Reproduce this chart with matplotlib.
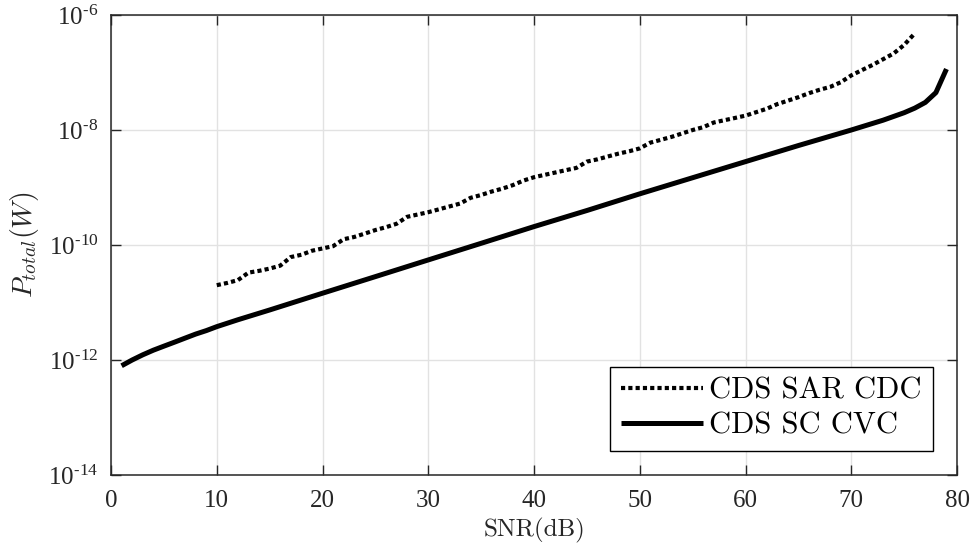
import matplotlib
import matplotlib.pyplot as plt
import numpy as np

matplotlib.use("Agg")

# SNR sweep (dB) and total power (W) for the two converter architectures
snr_sar = [10, 11, 12, 13, 14, 15, 16, 17, 18, 19, 20, 21, 22, 23, 24, 25,
           26, 27, 28, 29, 30, 31, 32, 33, 34, 35, 36, 37, 38, 39, 40, 41,
           42, 43, 44, 45, 46, 47, 48, 49, 50, 51, 52, 53, 54, 55, 56, 57,
           58, 59, 60, 61, 62, 63, 64, 65, 66, 67, 68, 69, 70, 71, 72, 73,
           74, 75, 76]
p_sar = [2.0e-11, 2.19e-11, 2.45e-11, 3.31e-11, 3.55e-11, 3.89e-11,
         4.37e-11, 6.17e-11, 6.76e-11, 7.94e-11, 8.71e-11, 9.55e-11,
         1.26e-10, 1.38e-10, 1.58e-10, 1.82e-10, 2.04e-10, 2.34e-10,
         3.09e-10, 3.39e-10, 3.72e-10, 4.17e-10, 4.68e-10, 5.25e-10,
         6.61e-10, 7.41e-10, 8.51e-10, 9.55e-10, 1.10e-09, 1.32e-09,
         1.51e-09, 1.66e-09, 1.82e-09, 2.0e-09, 2.19e-09, 2.82e-09,
         3.09e-09, 3.47e-09, 3.89e-09, 4.27e-09, 4.79e-09, 6.03e-09,
         6.76e-09, 7.59e-09, 8.71e-09, 1.0e-08, 1.12e-08, 1.35e-08,
         1.48e-08, 1.62e-08, 1.78e-08, 2.04e-08, 2.34e-08, 2.82e-08,
         3.24e-08, 3.72e-08, 4.37e-08, 5.01e-08, 5.62e-08, 6.76e-08,
         8.91e-08, 1.10e-07, 1.35e-07, 1.70e-07, 2.14e-07, 3.02e-07,
         4.79e-07]

snr_sc = [1, 2, 3, 4, 5, 6, 7, 8, 9, 10, 12, 15, 20, 25, 30, 35, 40, 45,
          50, 55, 60, 65, 70, 73, 75, 76, 77, 78, 79]
p_sc = [7.94e-13, 1.0e-12, 1.23e-12, 1.48e-12, 1.74e-12, 2.04e-12,
        2.40e-12, 2.82e-12, 3.24e-12, 3.80e-12, 5.01e-12, 7.41e-12,
        1.45e-11, 2.82e-11, 5.50e-11, 1.07e-10, 2.09e-10, 3.98e-10,
        7.76e-10, 1.48e-09, 2.82e-09, 5.37e-09, 1.0e-08, 1.48e-08,
        2.0e-08, 2.40e-08, 3.02e-08, 4.47e-08, 1.15e-07]

x_ticks = [0, 10, 20, 30, 40, 50, 60, 70, 80]
y_exponents = [-14, -12, -10, -8, -6]

ink = "#262626"
plt.rcParams["font.family"] = "Liberation Serif"
plt.rcParams["mathtext.fontset"] = "cm"
plt.rcParams["axes.unicode_minus"] = False

fig = plt.figure(figsize=(9.73, 5.5), dpi=100)
ax = fig.add_axes([0.1141, 0.1364, 0.8695, 0.8363])

ax.semilogy(snr_sar, p_sar, color="black", lw=3.0,
            linestyle=(0, (1.0, 0.75)), dash_capstyle="butt",
            label="CDS SAR CDC", zorder=3)
ax.semilogy(snr_sc, p_sc, color="black", lw=3.6,
            solid_capstyle="butt", label="CDS SC CVC", zorder=3)

ax.set_xlim(0, 80)
ax.set_ylim(1e-14, 1e-6)

ax.tick_params(direction="in", length=7, width=1.0, color=ink,
               labelcolor=ink, labelsize=18, top=True, right=True)
ax.tick_params(axis="x", pad=11)
ax.tick_params(axis="y", pad=9)

ax.set_xticks(x_ticks)
ax.set_xticklabels([str(t) for t in x_ticks])
ax.set_yticks([10.0 ** e for e in y_exponents])
ax.set_yticklabels([r"$\mathregular{10^{\text{-}%d}}$" % -e
                    for e in y_exponents])
for lbl in ax.get_yticklabels():
    lbl.set_math_fontfamily("stix")
ax.minorticks_off()

ax.grid(True, color="#e2e2e2", lw=1.0)
ax.set_axisbelow(True)
for sp in ax.spines.values():
    sp.set_color(ink)
    sp.set_linewidth(1.1)

ax.set_xlabel("SNR(dB)", family="cmr10", fontsize=18, color=ink,
              labelpad=4)
ax.set_ylabel(r"$P_{total}(W)$", fontsize=20, color=ink, labelpad=5)

leg = ax.legend(loc="lower right", prop={"family": "cmr10", "size": 22},
                frameon=True, fancybox=False, framealpha=1.0,
                edgecolor="black", handlelength=2.7, handletextpad=0.2,
                labelspacing=0.25, borderpad=0.35, borderaxespad=0.8)
leg.get_frame().set_linewidth(1.0)

plt.savefig("out.png", dpi=100)
plt.close()
